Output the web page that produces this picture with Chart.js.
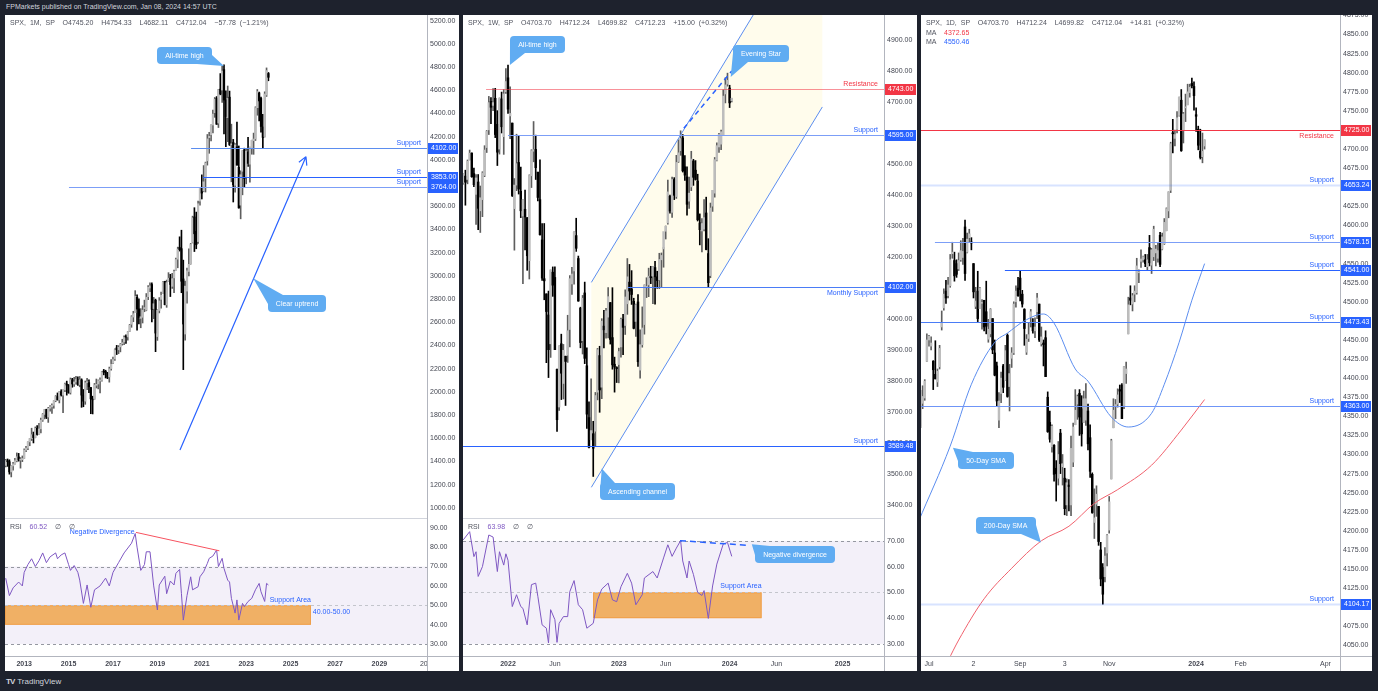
<!DOCTYPE html>
<html>
<head>
<meta charset="utf-8">
<title>SPX multi timeframe</title>
<script src="https://cdn.jsdelivr.net/npm/chart.js@4.4.1/dist/chart.umd.min.js"></script>
<style>
  html, body { margin: 0; padding: 0; }
  body { width: 1378px; height: 691px; background: #1e222d; position: relative; overflow: hidden;
         font-family: "Liberation Sans", Arial, sans-serif; }
  .banner { position: absolute; left: 6px; top: 3px; font-size: 7px; color: #d1d4dc; }
  .panel { position: absolute; top: 15px; height: 656px; background: #fff; overflow: hidden; }
  .panel canvas { position: absolute; left: 0; }
  .hdr { position: absolute; left: 5px; font-size: 7px; line-height: 9.5px; color: #50535e; word-spacing: 2px; white-space: nowrap; }
  .red { color: #f23645; } .blue { color: #2962ff; } .pur { color: #7e57c2; }
  .footer { position: absolute; left: 6px; top: 677px; font-size: 8px; color: #d1d4dc; }
  .footer b { letter-spacing: -1px; margin-right: 3px; }
</style>
</head>
<body>
<div class="banner">FPMarkets published on TradingView.com, Jan 08, 2024 14:57 UTC</div>

<div class="panel" style="left:5px;width:454px">
  <canvas id="mMain" width="454" height="503" style="top:0"></canvas>
  <canvas id="mRsi" width="454" height="153" style="top:503px"></canvas>
  <div class="hdr" style="top:3px">SPX, 1M, SP &nbsp;O4745.20 &nbsp;H4754.33 &nbsp;L4682.11 &nbsp;C4712.04 &nbsp;−57.78 (−1.21%)</div>
  <div class="hdr" style="top:507px">RSI &nbsp;<span class="pur">60.52</span> &nbsp;∅ &nbsp;∅</div>
</div>

<div class="panel" style="left:463px;width:454px">
  <canvas id="wMain" width="454" height="503" style="top:0"></canvas>
  <canvas id="wRsi" width="454" height="153" style="top:503px"></canvas>
  <div class="hdr" style="top:3px">SPX, 1W, SP &nbsp;O4703.70 &nbsp;H4712.24 &nbsp;L4699.82 &nbsp;C4712.23 &nbsp;+15.00 (+0.32%)</div>
  <div class="hdr" style="top:507px">RSI &nbsp;<span class="pur">63.98</span> &nbsp;∅ &nbsp;∅</div>
</div>

<div class="panel" style="left:921px;width:451px">
  <canvas id="dMain" width="451" height="656" style="top:0"></canvas>
  <div class="hdr" style="top:3px">SPX, 1D, SP &nbsp;O4703.70 &nbsp;H4712.24 &nbsp;L4699.82 &nbsp;C4712.04 &nbsp;+14.81 (+0.32%)<br>MA &nbsp;<span class="red">4372.65</span><br>MA &nbsp;<span class="blue">4550.46</span></div>
</div>

<div class="footer"><b>TV</b>TradingView</div>

<script>
// ---------------- data ----------------
// monthly bars, Mar 2012 .. Jan 2024, [open, high, low, close]; x = months from Jan 2022
const monthlyFirst = -118;
const monthlyBars = [
  [1366,1419,1354,1408],[1408,1422,1358,1398],[1398,1415,1291,1310],[1310,1363,1267,1362],[1362,1392,1325,1379],
  [1380,1427,1378,1407],[1406,1474,1397,1441],[1440,1470,1403,1412],[1412,1434,1343,1416],[1416,1448,1399,1426],
  [1426,1509,1426,1498],[1498,1530,1485,1515],[1515,1570,1501,1569],[1569,1597,1536,1598],[1598,1687,1581,1631],[1631,1654,1560,1606],
  [1606,1698,1604,1686],[1686,1709,1627,1633],[1633,1730,1633,1682],[1682,1775,1646,1757],[1757,1813,1746,1806],[1806,1849,1767,1848],
  [1848,1851,1770,1783],[1783,1867,1737,1859],[1859,1883,1834,1872],[1872,1897,1814,1884],[1884,1924,1859,1924],[1924,1968,1915,1960],
  [1960,1991,1930,1931],[1931,2005,1905,2003],[2003,2019,1964,1972],[1972,2018,1821,2018],[2018,2075,2001,2068],[2068,2093,1972,2059],
  [2059,2064,1988,1995],[1995,2120,1981,2105],[2105,2117,2040,2068],[2068,2126,2048,2086],[2086,2135,2067,2107],[2107,2130,2056,2063],
  [2063,2133,2044,2104],[2104,2113,1867,1972],[1972,2021,1872,1920],[1920,2094,1893,2079],[2079,2117,2019,2080],[2080,2104,1993,2044],
  [2038,2038,1812,1940],[1936,1963,1810,1932],[1937,2073,1937,2060],[2057,2111,2034,2065],[2068,2103,2026,2097],[2094,2121,1992,2099],
  [2100,2178,2093,2174],[2174,2194,2147,2171],[2171,2187,2120,2168],[2164,2169,2114,2126],[2129,2214,2084,2199],[2201,2278,2188,2239],
  [2251,2301,2245,2279],[2285,2371,2271,2364],[2380,2401,2322,2363],[2363,2399,2329,2384],[2388,2418,2345,2412],[2416,2454,2403,2423],
  [2431,2484,2407,2470],[2477,2491,2418,2472],[2474,2520,2446,2519],[2521,2582,2520,2575],[2583,2657,2557,2648],[2645,2695,2605,2674],
  [2683,2873,2683,2824],[2816,2836,2533,2714],[2716,2802,2585,2641],[2634,2718,2553,2648],[2643,2743,2594,2705],[2718,2791,2691,2718],
  [2705,2848,2699,2816],[2821,2917,2796,2902],[2896,2941,2864,2914],[2926,2940,2604,2712],[2718,2815,2631,2760],[2790,2800,2347,2507],
  [2477,2708,2444,2704],[2702,2813,2681,2784],[2798,2860,2722,2834],[2848,2950,2848,2946],[2952,2954,2750,2752],[2751,2964,2729,2942],
  [2953,3028,2952,2980],[2981,3014,2822,2926],[2910,3022,2892,2977],[2983,3050,2856,3038],[3050,3154,3050,3141],[3144,3248,3070,3231],
  [3245,3337,3214,3226],[3235,3394,2855,2954],[2974,3136,2192,2585],[2499,2955,2447,2912],[2869,3068,2766,3044],[3038,3234,2999,3100],
  [3105,3280,3101,3271],[3289,3515,3284,3500],[3508,3588,3210,3363],[3385,3550,3234,3270],[3296,3646,3280,3622],[3645,3760,3610,3756],
  [3765,3871,3663,3714],[3732,3951,3725,3811],[3842,3981,3723,3973],[3992,4219,3955,4181],[4192,4238,4057,4204],[4217,4302,4164,4298],
  [4301,4430,4233,4395],[4407,4538,4367,4523],[4529,4546,4306,4308],[4317,4608,4279,4605],[4610,4744,4561,4567],[4602,4808,4495,4766],
  [4778,4819,4223,4516],[4519,4596,4115,4374],[4364,4637,4157,4530],[4541,4593,4124,4132],[4130,4308,3811,4132],[4150,4177,3637,3785],
  [3781,4140,3721,4130],[4112,4325,3955,3955],[3937,4120,3584,3586],[3610,3906,3492,3872],[3902,4080,3699,4080],[4087,4101,3764,3840],
  [3853,4095,3794,4077],[4070,4195,3943,3970],[3963,4110,3809,4109],[4102,4170,4049,4169],[4166,4231,4048,4180],[4181,4458,4167,4450],
  [4450,4607,4385,4589],[4578,4584,4335,4508],[4530,4541,4239,4288],[4284,4393,4104,4194],[4201,4587,4197,4568],[4559,4793,4547,4770],
  [4745,4754,4682,4712]
];
const monthlyRsi = [
  [-118,64],[-116,55],[-114,59],[-111,62],[-109,60],[-108,67],[-106,71],[-104,74],[-102,70],[-100,73],[-98,77],[-96,72],
  [-94,75],[-91,77],[-90,74],[-88,76],[-86,77],[-84,71],[-83,68],[-81,70.5],[-79,67],[-78,63],[-76,51],[-74,60.5],
  [-72,49],[-70,58],[-67,60],[-64,64],[-62,60],[-60,67],[-57,72],[-54,77],[-50,82],[-48,87],[-47,80],[-45,68],
  [-43,71],[-42,77.6],[-40,77.6],[-38,60],[-36,47.6],[-35,60.5],[-32,65],[-31,56],[-29,62.5],[-27,60.5],[-26,66.5],[-24,68.5],
  [-23,56],[-22,42.4],[-20,55],[-18,64.7],[-17,58],[-14,59.6],[-13,64.7],[-11,67.3],[-9,71.6],[-8,74.2],[-6,75.4],[-4,78.5],
  [-3,70],[-1,74.2],[0,69],[2,63],[3,62],[4,53.6],[6,46],[7,52.8],[8,42.4],[10,51],[11,49.3],[13,52],
  [15,53.6],[17,58],[19,61.3],[20,57],[22,52],[23,61.3],[24,60.5]
];
const monthlyTicks = [-108,-84,-60,-36,-12,12,36,60,84,108];
const monthlyTickLabels = ['2013','2015','2017','2019','2021','2023','2025','2027','2029','20'];
const monthlyPriceTicks = [1000,1200,1400,1600,1800,2000,2200,2400,2600,2800,3000,3200,3400,3600,3800,4000,4200,4400,4600,4800,5000,5200];
const monthlySupports = [4102, 3853, 3764];

// weekly bars, week of Aug 9 2021 .. Jan 8 2024; x = weeks from Jan 3 2022
const weeklyFirst = -21;
const weeklyBars = [
  [4438,4468,4435,4468],[4461,4480,4367,4441],[4450,4513,4436,4509],[4514,4545,4513,4535],[4535,4536,4457,4459],
  [4469,4487,4427,4433],[4402,4466,4305,4455],[4442,4466,4288,4357],[4349,4429,4279,4391],[4385,4475,4330,4471],
  [4463,4559,4459,4545],[4553,4608,4537,4605],[4610,4718,4595,4698],[4702,4714,4630,4683],[4689,4743,4672,4698],
  [4712,4744,4585,4595],[4628,4672,4495,4538],[4548,4713,4532,4712],[4710,4732,4600,4620],[4588,4740,4531,4726],
  [4733,4808,4728,4766],
  [4778,4819,4663,4677],[4655,4749,4582,4663],[4632,4632,4395,4398],[4356,4453,4222,4432],[4432,4596,4414,4501],
  [4505,4591,4403,4419],[4412,4490,4327,4349],[4332,4385,4114,4385],[4354,4416,4223,4329],[4327,4327,4157,4204],
  [4188,4465,4129,4463],[4462,4546,4424,4543],[4541,4637,4507,4546],[4547,4593,4450,4488],[4474,4471,4381,4392],
  [4385,4513,4270,4272],[4255,4308,4124,4132],[4130,4308,4062,4123],[4081,4081,3859,4024],[4013,4090,3811,3901],
  [3920,4158,3876,4158],[4151,4168,4073,4109],[4134,4168,3901,3901],[3838,3838,3637,3675],[3716,3913,3705,3912],
  [3920,3951,3740,3825],[3792,3918,3742,3899],[3880,3880,3721,3863],[3883,4012,3860,3962],[3966,4140,3910,4130],
  [4113,4167,4079,4145],[4155,4281,4112,4280],[4269,4325,4218,4228],[4195,4203,4057,4058],[4035,4038,3907,3924],
  [3930,4076,3887,4067],[4084,4119,3856,3873],[3849,3907,3647,3693],[3682,3733,3584,3586],[3610,3807,3611,3640],
  [3630,3670,3492,3583],[3638,3763,3591,3753],[3764,3905,3739,3901],[3882,3912,3699,3771],[3780,4001,3743,3993],
  [3977,4028,3907,3965],[3956,4034,3938,4026],[4006,4101,3939,4072],[4053,4053,3919,3934],[3940,4101,3838,3852],
  [3854,3877,3764,3845],[3843,3846,3795,3840],
  [3853,3906,3794,3895],[3910,4003,3877,3999],[3999,4015,3885,3973],[3979,4094,3950,4071],[4049,4195,4015,4136],
  [4119,4176,4061,4090],[4097,4156,4047,4079],[4057,4067,3968,3970],[3992,4048,3944,4046],[4055,4079,3847,3862],
  [3835,3965,3809,3917],[3917,4039,3909,3971],[3982,4110,3951,4109],[4102,4133,4069,4105],[4110,4164,4072,4138],
  [4137,4170,4114,4133],[4138,4170,4049,4169],[4166,4186,4048,4136],[4136,4154,4099,4124],[4126,4212,4098,4192],
  [4191,4213,4103,4205],[4226,4231,4167,4282],[4283,4300,4258,4299],[4310,4448,4306,4410],[4396,4400,4341,4348],
  [4344,4458,4328,4450],[4450,4456,4385,4399],[4395,4528,4389,4505],[4508,4578,4505,4536],[4543,4607,4528,4582],
  [4584,4595,4474,4478],[4491,4527,4447,4464],[4458,4491,4335,4370],[4380,4458,4357,4406],[4426,4541,4414,4516],
  [4510,4515,4431,4457],[4480,4511,4448,4450],[4445,4467,4316,4320],[4310,4339,4239,4288],[4284,4324,4216,4308],
  [4290,4385,4284,4327],[4342,4393,4223,4224],[4211,4259,4104,4117],[4140,4374,4133,4358],[4364,4415,4347,4415],
  [4406,4521,4393,4514],[4512,4568,4510,4559],[4555,4599,4537,4595],[4564,4609,4546,4604],[4593,4739,4593,4719],
  [4726,4778,4697,4755],[4758,4793,4751,4770],
  [4745,4754,4682,4697],[4704,4712,4700,4712]
];
const weeklyRsi = [
  [-21,70.4],[-18,73.6],[-16,63.9],[-15,65.8],[-14,56.2],[-12,60],[-9,72.3],[-7,71.5],[-5,58.1],[-4,65.8],[-2,60.6],[-1,65],
  [0,62.5],[2,44.5],[4,49.1],[6,44.5],[7,43.8],[9,37.4],[11,53],[13,53.6],[14,48.5],[16,37.4],[18,36.1],[19,30.4],
  [20,43.3],[22,39.4],[23,30.6],[24,38],[26,40.6],[28,40.6],[29,50.3],[31,54.6],[33,45.2],[35,43.3],[37,36.1],[40,38],
  [42,47.1],[44,51.3],[47,53.6],[49,47.1],[51,46.4],[53,52.2],[56,57.4],[58,53.6],[60,45.2],[63,49.1],[64,55.6],[68,58.1],
  [70,55.6],[73,63.4],[75,68.5],[77,64],[79,67.2],[81,70.1],[82,62.2],[84,55.6],[85,62.2],[87,57],[89,50],[91,48.8],
  [92,50.7],[94,39.9],[96,52.5],[98,61],[101,68.8],[103,69.4],[105,64]
];
const weeklyTicks = [0,22,52,74,104,126,157];
const weeklyTickLabels = ['2022','Jun','2023','Jun','2024','Jun','2025'];
const weeklyPriceTicks = [3400,3500,3600,3700,3800,3900,4000,4100,4200,4300,4400,4500,4600,4700,4800,4900];
const weeklyResistance = 4743;
const weeklySupports = [4595, 4102, 3589.48];

// daily bars, Jun 27 2023 .. Jan 8 2024; x = sessions from Jul 3 2023
const dailyFirst = -4;
const dailyBars = [
  [4337,4384,4335,4378],[4367,4390,4360,4376],[4374,4398,4371,4396],[4422,4458,4422,4450],
  [4450,4456,4442,4455],[4442,4454,4437,4446],[4422,4423,4385,4411],[4405,4449,4399,4399],[4395,4412,4389,4409],
  [4415,4443,4412,4439],[4467,4488,4463,4472],[4492,4517,4489,4510],[4514,4528,4498,4505],[4508,4532,4505,4522],
  [4521,4562,4519,4555],[4563,4578,4557,4565],[4554,4565,4527,4534],[4550,4555,4532,4536],[4543,4564,4541,4554],
  [4555,4580,4553,4567],[4558,4583,4549,4566],[4598,4607,4528,4537],[4565,4590,4564,4582],[4584,4595,4578,4589],
  [4578,4584,4568,4577],[4550,4550,4505,4513],[4494,4519,4491,4501],[4514,4540,4474,4478],[4491,4519,4491,4518],
  [4498,4503,4464,4499],[4502,4502,4462,4467],[4487,4527,4458,4468],[4451,4477,4447,4464],[4458,4491,4454,4490],
  [4478,4478,4432,4437],[4433,4450,4403,4404],[4416,4421,4364,4370],[4345,4381,4335,4370],[4380,4408,4368,4400],
  [4416,4418,4381,4388],[4397,4443,4397,4436],[4456,4458,4375,4376],[4389,4418,4357,4406],[4426,4440,4414,4433],
  [4433,4500,4431,4497],[4500,4521,4493,4514],[4518,4532,4507,4508],
  [4531,4541,4501,4516],[4510,4515,4493,4497],[4490,4491,4443,4465],[4434,4457,4431,4451],[4452,4473,4448,4457],
  [4480,4490,4467,4487],[4473,4478,4459,4462],[4462,4479,4453,4467],[4487,4511,4478,4505],[4497,4497,4448,4450],
  [4445,4467,4442,4454],[4446,4450,4416,4444],[4453,4462,4402,4402],[4375,4382,4329,4330],[4342,4357,4316,4320],
  [4310,4339,4303,4337],[4312,4313,4265,4274],[4282,4292,4239,4275],[4269,4317,4260,4300],[4328,4333,4275,4288],
  [4284,4300,4260,4288],[4269,4282,4221,4229],[4234,4268,4220,4263],[4260,4267,4226,4258],[4234,4324,4220,4308],
  [4290,4341,4284,4336],[4339,4385,4339,4358],[4366,4378,4346,4376],[4380,4385,4325,4349],[4360,4377,4311,4327],
  [4342,4383,4342,4373],[4345,4393,4338,4373],[4357,4366,4306,4314],[4322,4339,4270,4278],[4274,4276,4223,4224],
  [4211,4255,4190,4217],[4235,4259,4219,4248],[4232,4232,4181,4186],[4175,4185,4128,4137],[4152,4157,4104,4117],
  [4140,4178,4133,4167],[4171,4195,4154,4194],
  [4201,4245,4197,4238],[4268,4320,4268,4318],[4335,4373,4335,4358],[4364,4372,4347,4365],[4366,4386,4362,4378],
  [4385,4391,4368,4383],[4391,4393,4347,4347],[4364,4415,4360,4415],[4406,4421,4393,4412],[4458,4506,4458,4496],
  [4505,4521,4496,4502],[4497,4511,4488,4508],[4510,4521,4500,4514],[4512,4557,4510,4547],[4538,4542,4525,4538],
  [4553,4568,4545,4556],[4555,4560,4552,4559],[4555,4562,4546,4550],[4546,4562,4541,4555],[4571,4587,4547,4551],
  [4548,4570,4537,4568],
  [4559,4599,4554,4595],[4564,4574,4547,4569],[4557,4578,4552,4567],[4587,4591,4546,4549],[4569,4590,4568,4585],
  [4576,4609,4575,4604],[4593,4623,4593,4622],[4619,4644,4610,4644],[4646,4709,4643,4707],[4721,4739,4695,4720],
  [4714,4725,4704,4719],[4726,4749,4721,4741],[4744,4768,4743,4768],[4764,4778,4697,4698],[4724,4748,4708,4746],
  [4754,4772,4736,4755],[4758,4785,4758,4775],[4774,4785,4768,4781],[4786,4793,4780,4783],[4782,4788,4751,4770],
  [4745,4754,4723,4743],[4726,4730,4699,4705],[4697,4726,4687,4689],[4690,4721,4682,4697],[4704,4712,4700,4712]
];
const sma50 = [[-5,4212],[10,4311],[20,4392],[31,4447],[37,4459],[45,4475],[54,4484],[59,4472],[69,4412],[75,4396],
  [86,4349],[94,4336],[105,4354],[111,4392],[118,4447],[124,4502],[130,4550]];
const sma200 = [[9,4030],[14,4057],[26,4111],[39,4151],[53,4187],[66,4206],[78,4236],[89,4254],[105,4286],[119,4332],[130,4372]];
const dailyTicks = [0,21,43,64,85,126,147,187];
const dailyTickLabels = ['Jul','2','Sep','3','Nov','2024','Feb','Apr'];
const dailyPriceTicks = [4050,4075,4100,4125,4150,4175,4200,4225,4250,4275,4300,4325,4350,4375,4400,4425,4450,4475,
  4500,4525,4550,4575,4600,4625,4650,4675,4700,4725,4750,4775,4800,4825,4850,4875];
const dailyResistance = 4725;
const dailySupports = [4653.24, 4578.15, 4541, 4473.43, 4363, 4104.17];

const rsiTicksA = [30,40,50,60,70,80,90];
const rsiTicksB = [30,40,50,60,70];

// ---------------- helpers ----------------
Chart.defaults.font.family = '"Liberation Sans", Arial, sans-serif';
Chart.defaults.font.size = 7;
Chart.defaults.animation = false;
Chart.defaults.events = [];

const FONT = '7px "Liberation Sans", Arial, sans-serif';
const AXIS_TEXT = '#434651';
const AXIS_LINE = '#b2b5be';
const BLUE = '#2962ff';
const RED = '#f23645';
const CALLOUT = '#60acf2';

function candleSets(bars, first, bodyW) {
  const wick = [], body = [], wc = [], bc = [];
  bars.forEach((b, i) => {
    const up = b[3] >= b[0];
    wick.push({ x: first + i, y: [b[2], b[1]] });
    body.push({ x: first + i, y: [b[0], b[3]] });
    wc.push(up ? '#5e5e5e' : '#000');
    bc.push(up ? '#bdbdbd' : '#000');
  });
  return [
    { type: 'bar', data: body, backgroundColor: bc, barThickness: bodyW, minBarLength: 1, grouped: false, order: 1 },
    { type: 'bar', data: wick, backgroundColor: wc, barThickness: 1, grouped: false, order: 2 }
  ];
}

function pts(list) { return list.map(p => ({ x: p[0], y: p[1] })); }

function yAxis(min, max, values, width) {
  return {
    position: 'right', min, max,
    afterBuildTicks: s => { s.ticks = values.map(v => ({ value: v })); },
    afterFit: s => { s.width = width; s.paddingTop = 0; s.paddingBottom = 0; },
    ticks: { callback: v => v.toFixed(2), padding: 3, color: AXIS_TEXT, font: { size: 7 } },
    grid: { color: 'rgba(0,0,0,0)', drawTicks: false },
    border: { color: AXIS_LINE }
  };
}

function xAxis(min, max, tickVals, tickLabels) {
  if (!tickVals) {
    return { type: 'linear', min, max, offset: false, display: false,
      afterFit: s => { s.height = 0; s.paddingLeft = 0; s.paddingRight = 0; } };
  }
  return {
    type: 'linear', min, max, offset: false, position: 'bottom',
    afterBuildTicks: s => { s.ticks = tickVals.map(v => ({ value: v })); },
    afterFit: s => { s.height = 15; s.paddingLeft = 0; s.paddingRight = 0; },
    ticks: {
      callback: (v, i) => tickLabels[i], maxRotation: 0, autoSkip: false, padding: 4, color: AXIS_TEXT,
      font: c => ({ size: 7, weight: /^\d{4}$/.test(tickLabels[c.index]) ? 'bold' : 'normal' })
    },
    grid: { color: 'rgba(0,0,0,0)', drawTicks: false },
    border: { color: AXIS_LINE }
  };
}

function tools(chart) {
  const ctx = chart.ctx, a = chart.chartArea;
  const X = v => chart.scales.x.getPixelForValue(v);
  const Y = v => chart.scales.y.getPixelForValue(v);
  function clipped(fn) {
    ctx.save(); ctx.beginPath(); ctx.rect(a.left, a.top, a.right - a.left, a.bottom - a.top); ctx.clip();
    fn(); ctx.restore();
  }
  return {
    ctx, a, X, Y,
    seg(x1, y1, x2, y2, color, w, dash) {
      clipped(() => {
        ctx.strokeStyle = color; ctx.lineWidth = w || 1; ctx.setLineDash(dash || []);
        ctx.beginPath(); ctx.moveTo(X(x1), Y(y1)); ctx.lineTo(X(x2), Y(y2)); ctx.stroke();
      });
    },
    arrow(x1, y1, x2, y2, color) {
      clipped(() => {
        const ax = X(x1), ay = Y(y1), bx = X(x2), by = Y(y2), ang = Math.atan2(by - ay, bx - ax);
        ctx.strokeStyle = color; ctx.lineWidth = 1.2;
        ctx.beginPath(); ctx.moveTo(ax, ay); ctx.lineTo(bx, by);
        [-1, 1].forEach(s => { ctx.moveTo(bx, by); ctx.lineTo(bx - 9 * Math.cos(ang + s * 0.5), by - 9 * Math.sin(ang + s * 0.5)); });
        ctx.stroke();
      });
    },
    level(v, from, color, w) {
      const y = Math.round(Y(v)) + 0.5;
      clipped(() => {
        ctx.strokeStyle = color; ctx.lineWidth = w || 1;
        ctx.beginPath(); ctx.moveTo(from == null ? a.left : X(from), y); ctx.lineTo(a.right, y); ctx.stroke();
      });
    },
    tag(txt, v, color, below) {
      clipped(() => {
        ctx.font = FONT; ctx.fillStyle = color; ctx.textAlign = 'right';
        ctx.textBaseline = below ? 'top' : 'bottom';
        ctx.fillText(txt, a.right - 6, Math.round(Y(v)) + (below ? 3 : -1));
      });
    },
    text(txt, x, y, color, align) {
      clipped(() => {
        ctx.font = FONT; ctx.fillStyle = color; ctx.textAlign = align || 'left'; ctx.textBaseline = 'middle';
        ctx.fillText(txt, X(x), Y(y));
      });
    },
    band(x1, x2, y1, y2, fill, stroke) {
      clipped(() => {
        const l = x1 == null ? a.left : X(x1), r = x2 == null ? a.right : X(x2);
        const t = Y(y2), b = Y(y1);
        ctx.fillStyle = fill; ctx.fillRect(l, t, r - l, b - t);
        if (stroke) { ctx.strokeStyle = stroke; ctx.lineWidth = 1; ctx.strokeRect(l + 0.5, t + 0.5, r - l - 1, b - t - 1); }
      });
    },
    dashed(v, color) {
      const y = Math.round(Y(v)) + 0.5;
      clipped(() => {
        ctx.strokeStyle = color; ctx.lineWidth = 1; ctx.setLineDash([3, 3]);
        ctx.beginPath(); ctx.moveTo(a.left, y); ctx.lineTo(a.right, y); ctx.stroke();
      });
    },
    badge(v, color) {
      const y = Math.round(Y(v));
      ctx.save();
      ctx.fillStyle = color; ctx.fillRect(a.right + 1, y - 5, chart.width - a.right - 2, 11);
      ctx.fillStyle = '#fff'; ctx.font = FONT; ctx.textAlign = 'left'; ctx.textBaseline = 'middle';
      ctx.fillText(v.toFixed(2), a.right + 4, y + 0.5);
      ctx.restore();
    },
    callout(txt, cx, cy, tx, ty) {
      clipped(() => {
        ctx.font = FONT;
        const w = Math.round(ctx.measureText(txt).width + 16), h = 17;
        const cX = X(cx), cY = Y(cy), tX = X(tx), tY = Y(ty);
        const l = Math.round(cX - w / 2), t = Math.round(cY - h / 2), r = l + w, b = t + h;
        const kx = tX < cX ? l : r, ky = tY < cY ? t : b;
        const sx = tX < cX ? 1 : -1, sy = tY < cY ? 1 : -1;
        ctx.fillStyle = CALLOUT;
        ctx.beginPath(); ctx.roundRect(l, t, w, h, 4); ctx.fill();
        ctx.beginPath(); ctx.moveTo(tX, tY); ctx.lineTo(kx + sx * 15, ky); ctx.lineTo(kx + sx * 3, ky + sy * 3);
        ctx.lineTo(kx, ky + sy * 9); ctx.closePath(); ctx.fill();
        ctx.fillStyle = '#fff'; ctx.textAlign = 'center'; ctx.textBaseline = 'middle';
        ctx.fillText(txt, cX, t + h / 2 + 0.5);
      });
    },
    frame() {
      ctx.save(); ctx.strokeStyle = AXIS_LINE; ctx.lineWidth = 1;
      ctx.beginPath();
      ctx.moveTo(Math.round(a.right) + 0.5, a.bottom); ctx.lineTo(Math.round(a.right) + 0.5, chart.height);
      ctx.moveTo(a.right, Math.round(a.bottom) + 0.5); ctx.lineTo(chart.width, Math.round(a.bottom) + 0.5);
      ctx.stroke(); ctx.restore();
    }
  };
}

function overlay(back, front) {
  return {
    id: 'overlay',
    beforeDatasetsDraw(chart) { if (back) back(tools(chart)); },
    afterDraw(chart) { if (front) front(tools(chart)); }
  };
}

function makeChart(id, datasets, scales, plugin) {
  return new Chart(document.getElementById(id), {
    type: 'bar',
    data: { datasets },
    options: {
      responsive: false, maintainAspectRatio: false,
      layout: { padding: 0 },
      plugins: { legend: { display: false }, tooltip: { enabled: false } },
      scales
    },
    plugins: [plugin]
  });
}

function rsiBack(t) {
  t.band(null, null, 30, 70, 'rgba(126,87,194,0.09)');
}
function rsiLevels(t) {
  t.dashed(70, '#9598a1'); t.dashed(50, '#c3c5cc'); t.dashed(30, '#9598a1');
  const c = t.ctx; c.save(); c.strokeStyle = '#d1d4dc'; c.beginPath(); c.moveTo(0, 0.5); c.lineTo(t.a.right, 0.5); c.stroke(); c.restore();
}
function rsiLine(list) {
  return { type: 'line', data: pts(list), borderColor: '#7e57c2', borderWidth: 1, pointRadius: 0, tension: 0, order: 0 };
}

// ---------------- monthly panel ----------------
const mMin = -118.38, mMax = 109.73;
makeChart('mMain', candleSets(monthlyBars, monthlyFirst, 1.6), {
  x: xAxis(mMin, mMax),
  y: yAxis(913, 5249.1, monthlyPriceTicks, 32)
}, overlay(null, t => {
  t.level(monthlySupports[0], -17.8, '#5b8def');
  t.level(monthlySupports[1], -11.4, BLUE);
  t.level(monthlySupports[2], -83.8, '#7c9ef7');
  monthlySupports.forEach(v => t.tag('Support', v, BLUE));
  t.arrow(-23.8, 1499, 44.3, 4028, BLUE);
  t.callout('All-time high', -21.4, 4904, 0, 4810);
  t.callout('Clear uptrend', 39.5, 2766, 15.8, 2979);
  monthlySupports.forEach(v => t.badge(v, BLUE));
}));

makeChart('mRsi', [rsiLine(monthlyRsi)], {
  x: xAxis(mMin, mMax, monthlyTicks, monthlyTickLabels),
  y: yAxis(23.9, 95, rsiTicksA, 32)
}, overlay(t => {
  rsiBack(t);
  t.band(null, 47, 40, 50, 'rgba(240,165,75,0.85)', '#f0a04b');
  rsiLevels(t);
}, t => {
  t.seg(-47.6, 87.6, -2.5, 78.1, '#f7525f', 1);
  t.text('Negative Divergence', -48.3, 88, BLUE, 'right');
  t.text('Support Area', 47, 52.6, BLUE, 'right');
  t.text('40.00-50.00', 48, 46.6, BLUE, 'left');
  t.frame();
}));

// ---------------- weekly panel ----------------
const wMin = -21.12, wMax = 176.44;
makeChart('wMain', candleSets(weeklyBars, weeklyFirst, 1.8), {
  x: xAxis(wMin, wMax),
  y: yAxis(3358, 4980.6, weeklyPriceTicks, 33)
}, overlay(t => {
  // ascending channel fill
  const c = t.ctx;
  c.save(); c.beginPath(); c.rect(t.a.left, t.a.top, t.a.right - t.a.left, t.a.bottom - t.a.top); c.clip();
  c.fillStyle = 'rgba(255,236,150,0.18)';
  c.beginPath();
  c.moveTo(t.X(39.1), t.Y(3457)); c.lineTo(t.X(147.5), t.Y(4684));
  c.lineTo(t.X(147.5), t.Y(5349)); c.lineTo(t.X(39.1), t.Y(4118));
  c.closePath(); c.fill(); c.restore();
}, t => {
  t.seg(39.1, 3457, 147.5, 4684, '#5b8def', 1);
  t.seg(39.1, 4118, 147.5, 5349, '#5b8def', 1);
  t.level(weeklyResistance, -10.3, 'rgba(242,54,69,0.55)');
  t.level(weeklySupports[0], 0, '#7c9ef7');
  t.level(weeklySupports[1], 56.3, '#4a7cf6');
  t.level(weeklySupports[2], null, BLUE);
  t.tag('Resistance', weeklyResistance, RED);
  t.tag('Support', weeklySupports[0], BLUE);
  t.tag('Monthly Support', weeklySupports[1], BLUE, true);
  t.tag('Support', weeklySupports[2], BLUE);
  t.seg(82.5, 4615, 105, 4800, BLUE, 1.5, [5, 4]);
  t.callout('All-time high', 13.8, 4885, 0.9, 4819);
  t.callout('Evening Star', 118.7, 4858, 104.5, 4781);
  t.callout('Ascending channel', 60.8, 3443, 44, 3518);
  t.badge(weeklyResistance, RED);
  weeklySupports.forEach(v => t.badge(v, BLUE));
}));

makeChart('wRsi', [rsiLine(weeklyRsi)], {
  x: xAxis(wMin, wMax, weeklyTicks, weeklyTickLabels),
  y: yAxis(25.3, 78.9, rsiTicksB, 33)
}, overlay(t => {
  rsiBack(t);
  t.band(39.9, 119, 40, 50, 'rgba(240,165,75,0.85)', '#f0a04b');
  rsiLevels(t);
}, t => {
  t.seg(80.7, 70.1, 112, 68.3, BLUE, 1.5, [6, 4]);
  t.callout('Negative divergence', 134.7, 64.8, 114.4, 68.7);
  t.text('Support Area', 119, 52.6, BLUE, 'right');
  t.frame();
}));

// ---------------- daily panel ----------------
const dMin = -3.77, dMax = 193.87;
makeChart('dMain', [
  { type: 'line', data: pts(sma50), borderColor: '#5b8def', borderWidth: 1, pointRadius: 0, tension: 0.4, cubicInterpolationMode: 'monotone', order: 0 },
  { type: 'line', data: pts(sma200), borderColor: '#f0616d', borderWidth: 1, pointRadius: 0, tension: 0.4, cubicInterpolationMode: 'monotone', order: 0 },
  ...candleSets(dailyBars, dailyFirst, 1.8)
], {
  x: xAxis(dMin, dMax, dailyTicks, dailyTickLabels),
  y: yAxis(4036.1, 4875.6, dailyPriceTicks, 32)
}, overlay(null, t => {
  t.level(dailyResistance, null, RED);
  t.level(dailySupports[0], null, 'rgba(41,98,255,0.18)', 2);
  t.level(dailySupports[1], 2.8, '#7c9ef7');
  t.level(dailySupports[2], 35.8, BLUE);
  t.level(dailySupports[3], null, '#4a7cf6');
  t.level(dailySupports[4], null, '#6f95f7');
  t.level(dailySupports[5], null, 'rgba(41,98,255,0.18)', 2);
  t.tag('Resistance', dailyResistance, RED, true);
  dailySupports.forEach(v => t.tag('Support', v, BLUE));
  t.callout('50-Day SMA', 26.9, 4291.5, 11.3, 4309);
  t.callout('200-Day SMA', 36.1, 4207.6, 52.8, 4184.7);
  t.badge(dailyResistance, RED);
  dailySupports.forEach(v => t.badge(v, BLUE));
  t.frame();
}));
</script>
</body>
</html>
